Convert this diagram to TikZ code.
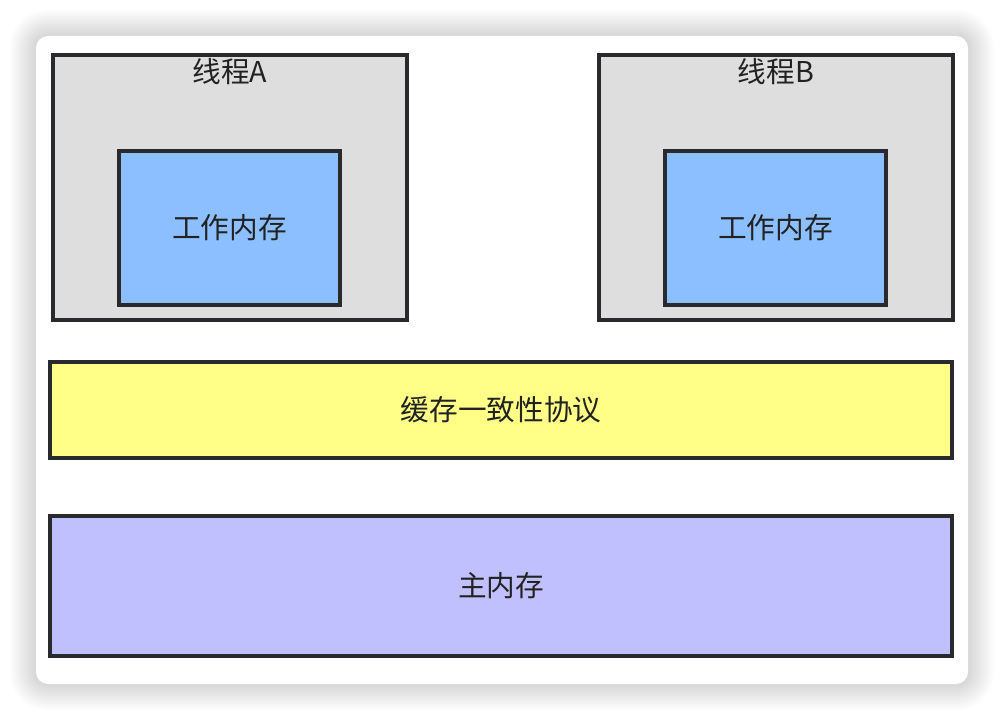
\documentclass[tikz,border=0pt]{standalone}
\usepackage{fontspec}
\setmainfont{Noto Sans CJK SC}
\usepackage{xcolor}
\usepackage{tikz}
\usetikzlibrary{
  positioning,
  calc
}
\definecolor{EdgeDark}{RGB}{40,42,45}
\definecolor{ThreadGray}{RGB}{222,222,222}
\definecolor{WorkBlue}{RGB}{139,191,255}
\definecolor{CacheYellow}{RGB}{255,255,136}
\definecolor{MainPurple}{RGB}{192,192,255}
\definecolor{TextDark}{RGB}{34,34,34}
\tikzset{
  %%── 线程与内存方框 ─────────────────────────────
  thread/.style = {
    rectangle, draw = EdgeDark, fill = ThreadGray,
    line width = 3pt,
    minimum width = 265.5pt, minimum height = 198.75pt
  },
  workmem/.style = {
    rectangle, draw = EdgeDark, fill = WorkBlue,
    line width = 3pt,
    minimum width = 165.75pt, minimum height = 115.5pt,
    font = \fontsize{21.5}{25}\selectfont, text = TextDark
  },
  layer/.style = {
    rectangle, draw = EdgeDark,
    line width = 3pt, minimum width = 676.5pt,
    font = \fontsize{21.5}{25}\selectfont, text = TextDark
  },
  tlabel/.style = {font = \fontsize{21.5}{25}\selectfont, text = TextDark},
  %%── 卡片背景 ─────────────────────────────────
  card/.style = {fill = white, rounded corners = 9pt},
  halo/.style = {fill = black, opacity = 0.012},
}
\begin{document}
\begin{tikzpicture}[x=0.75pt, y=-0.75pt]
  \useasboundingbox (0,0) rectangle (1004,720);
  \fill[white] (0,0) rectangle (1004,720);
  % 柔和阴影
  \foreach \s in {2,4,...,26}
    \fill[halo, rounded corners=9pt+\s*0.75pt]
      (36-\s,36-\s) rectangle (968+\s,684+\s);
  \path[card] (36,36) rectangle (968,684);

  % 线程A
  \node[thread] (thA) at (230,187.5) {};
  \node[tlabel] (labA) at (230,72) {线程A};
  \node[workmem] (wmA) at (229.5,228) {工作内存};

  % 线程B
  \node[thread] (thB) at (776,187.5) {};
  \node[tlabel] (labB) at (776,72) {线程B};
  \node[workmem] (wmB) at (775.5,228) {工作内存};

  % 缓存一致性协议 / 主内存
  \node[layer, fill=CacheYellow, minimum height=72pt] (mesi)
    at (501,410) {缓存一致性协议};
  \node[layer, fill=MainPurple, minimum height=105pt] (mem)
    at (501,586) {主内存};
\end{tikzpicture}
\end{document}
